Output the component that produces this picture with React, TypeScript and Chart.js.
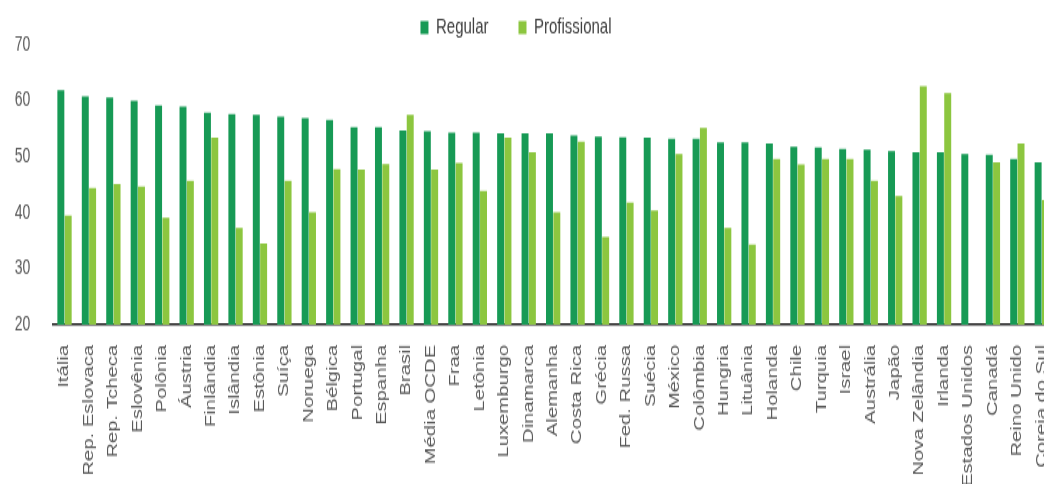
import React, { useEffect, useRef } from "react";
import { Chart, registerables } from "chart.js";

Chart.register(...registerables);

const categories: string[] = [
  "Itália", "Rep. Eslovaca", "Rep. Tcheca", "Eslovênia", "Polônia", "Áustria",
  "Finlândia", "Islândia", "Estônia", "Suíça", "Noruega", "Bélgica", "Portugal",
  "Espanha", "Brasil", "Média OCDE", "Fraa", "Letônia", "Luxemburgo", "Dinamarca",
  "Alemanha", "Costa Rica", "Grécia", "Fed. Russa", "Suécia", "México", "Colômbia",
  "Hungria", "Lituânia", "Holanda", "Chile", "Turquia", "Israel", "Austrália",
  "Japão", "Nova Zelândia", "Irlanda", "Estados Unidos", "Canadá", "Reino Unido",
  "Coreia do Sul",
];

const regular: number[] = [
  61.9, 60.8, 60.6, 60.0, 59.2, 59.0, 57.9, 57.6, 57.5, 57.2, 56.9, 56.6, 55.3,
  55.3, 54.7, 54.6, 54.3, 54.3, 54.2, 54.2, 54.2, 53.8, 53.6, 53.5, 53.4, 53.2,
  53.2, 52.6, 52.6, 52.4, 51.8, 51.7, 51.4, 51.3, 51.0, 50.8, 50.8, 50.5, 50.4,
  49.6, 49.0,
];

const profissional: (number | null)[] = [
  39.5, 44.4, 45.1, 44.7, 39.1, 45.7, 53.4, 37.3, 34.5, 45.7, 40.1, 47.8, 47.7,
  48.7, 57.5, 47.7, 48.9, 43.9, 53.4, 50.8, 40.1, 52.7, 35.7, 41.8, 40.4, 50.5,
  55.2, 37.3, 34.3, 49.6, 48.6, 49.6, 49.6, 45.7, 43.0, 62.6, 61.4, null, 49.0,
  52.4, 42.3,
];

const seriesNames: string[] = ["Regular", "Profissional"];
const yTicks: number[] = [20, 30, 40, 50, 60, 70];

const CANVAS_W = 1054;
const CANVAS_H = 334;
const VIEW_W = 1044;
const VIEW_H = 484;
const STRETCH = VIEW_H / CANVAS_H;

const FONT = "'Liberation Sans', Arial, sans-serif";
const TEXT_COLOR = "#595959";

export default function App() {
  const ref = useRef<HTMLCanvasElement | null>(null);

  useEffect(() => {
    if (!ref.current) return;

    const legendTweak = {
      id: "legendTweak",
      beforeInit(chart: any) {
        const lg = chart.legend;
        if (!lg) return;
        const orig = lg.fit;
        lg.fit = function () {
          orig.call(this);
          this.height = 31;
        };
      },
      afterLayout(chart: any) {
        const lg = chart.legend;
        if (!lg) return;
        const dx = 516 - (lg.left + lg.right) / 2;
        lg.left += dx;
        lg.right += dx;
        lg.top -= 18.5;
      },
    };

    const chart = new Chart(ref.current, {
      type: "bar",
      data: {
        labels: categories,
        datasets: [
          {
            label: seriesNames[0],
            data: regular,
            backgroundColor: "#179a55",
            categoryPercentage: 0.6,
            barPercentage: 0.95,
          },
          {
            label: seriesNames[1],
            data: profissional,
            backgroundColor: "#8cc63f",
            categoryPercentage: 0.6,
            barPercentage: 0.95,
          },
        ],
      },
      options: {
        animation: false,
        responsive: false,
        devicePixelRatio: 1,
        layout: { padding: 0 },
        plugins: {
          legend: {
            display: true,
            position: "top",
            labels: {
              boxWidth: 8,
              boxHeight: 9,
              padding: 30,
              color: "#404040",
              font: { family: FONT, size: 15 },
            },
          },
          tooltip: { enabled: false },
        },
        scales: {
          x: {
            grid: { display: false },
            border: { display: true, color: "#1a1a1a", width: 1.5 },
            ticks: {
              autoSkip: false,
              maxRotation: 90,
              minRotation: 90,
              padding: 6,
              color: TEXT_COLOR,
              font: { family: FONT, size: 14 },
            },
            afterFit: (s: any) => {
              s.height = 110;
              s.paddingLeft = 0;
              s.paddingRight = 0;
            },
          },
          y: {
            min: yTicks[0],
            max: yTicks[yTicks.length - 1],
            grid: { display: false, drawTicks: false },
            border: { display: false },
            afterBuildTicks: (s: any) => {
              s.ticks = yTicks.map((v) => ({ value: v }));
            },
            ticks: {
              padding: 22,
              color: TEXT_COLOR,
              font: { family: FONT, size: 14 },
            },
            afterFit: (s: any) => {
              s.width = 52.3;
            },
          },
        },
      },
      plugins: [legendTweak],
    });

    return () => chart.destroy();
  }, []);

  return (
    <div
      style={{
        position: "fixed",
        left: 0,
        top: 0,
        width: VIEW_W,
        height: VIEW_H,
        overflow: "hidden",
        background: "#ffffff",
      }}
    >
      <canvas
        ref={ref}
        width={CANVAS_W}
        height={CANVAS_H}
        style={{
          display: "block",
          transform: `scaleY(${STRETCH})`,
          transformOrigin: "0 0",
        }}
      />
    </div>
  );
}
